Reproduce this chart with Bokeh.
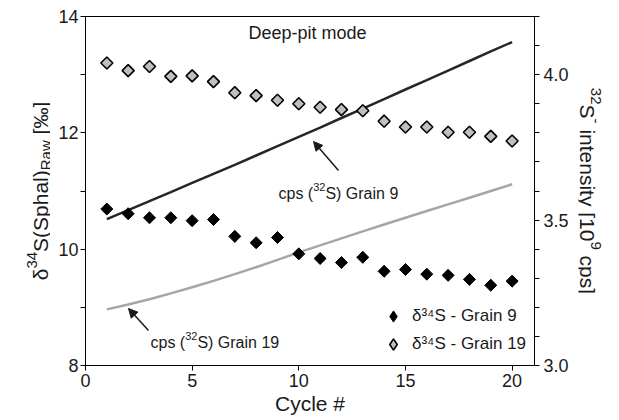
import numpy as np
from bokeh.plotting import figure
from bokeh.layouts import row
from bokeh.models import (Range1d, LinearAxis, FixedTicker, NumeralTickFormatter,
                          Label, Arrow, NormalHead, Legend, LegendItem)
from bokeh.embed import file_html
from bokeh.resources import INLINE

# ---------------- data ----------------
cycles = list(range(1, 21))
d34s_grain9 = [10.69, 10.61, 10.54, 10.54, 10.49, 10.51, 10.22, 10.11, 10.20, 9.92,
               9.84, 9.77, 9.86, 9.62, 9.65, 9.57, 9.55, 9.48, 9.38, 9.45]
d34s_grain19 = [13.20, 13.07, 13.14, 12.97, 12.98, 12.88, 12.69, 12.64, 12.56, 12.50,
                12.44, 12.40, 12.38, 12.20, 12.10, 12.10, 12.01, 12.01, 11.94, 11.86]
cps_grain9 = [3.503, 3.534, 3.565, 3.596, 3.628, 3.659, 3.690, 3.722, 3.754, 3.786,
              3.818, 3.851, 3.883, 3.916, 3.949, 3.981, 4.014, 4.047, 4.080, 4.112]
cps_grain19 = [3.193, 3.210, 3.228, 3.248, 3.269, 3.291, 3.314, 3.338, 3.363, 3.389,
               3.413, 3.437, 3.461, 3.485, 3.508, 3.531, 3.554, 3.577, 3.600, 3.623]

x_ticks = [0, 5, 10, 15, 20]
left_ticks = [8, 10, 12, 14]
left_minor = [9, 11, 13]
right_ticks = [3.0, 3.5, 4.0]
right_minor = [3.1, 3.2, 3.3, 3.4, 3.6, 3.7, 3.8, 3.9, 4.1, 4.2]

# ---------------- layout ----------------
FONT = "Liberation Sans"
TC = "#1a1a1a"
W, H = 619, 420
LS, RS = 50, 41                 # side strips holding the rotated axis titles
FL, FR, FT, FB = 85, 534, 16, 365   # frame in page pixels
X0, X1 = 0, 21.05
Y0, Y1 = 8, 14
MW = W - LS - RS

p = figure(width=MW, height=H, x_range=Range1d(X0, X1), y_range=Range1d(Y0, Y1),
           output_backend="svg", toolbar_location=None,
           min_border_left=FL - LS, min_border_right=(W - RS) - FR,
           min_border_top=FT, min_border_bottom=H - FB)
p.grid.visible = False
p.outline_line_color = "black"
p.outline_line_width = 1
p.background_fill_color = "white"
p.border_fill_color = "white"

p.extra_y_ranges = {"cps": Range1d(3.0, 4.2)}


def style_axis(ax, size="18px"):
    ax.axis_line_color = "black"
    ax.major_tick_line_color = "black"
    ax.minor_tick_line_color = "black"
    ax.major_tick_out = 5
    ax.major_tick_in = 0
    ax.minor_tick_out = 5
    ax.minor_tick_in = 0
    ax.major_label_text_font = FONT
    ax.major_label_text_font_size = size
    ax.major_label_text_color = TC
    ax.axis_label_text_font = FONT
    ax.axis_label_text_font_style = "normal"
    ax.axis_label_text_color = TC


xa = p.xaxis[0]
style_axis(xa)
xa.ticker = FixedTicker(ticks=x_ticks, minor_ticks=[])
xa.axis_label = "Cycle #"
xa.axis_label_text_font_size = "21px"
xa.axis_label_standoff = 2
xa.major_label_standoff = 3

ya = p.yaxis[0]
style_axis(ya)
ya.ticker = FixedTicker(ticks=left_ticks, minor_ticks=left_minor)
ya.major_label_standoff = 2

ra = LinearAxis(y_range_name="cps")
style_axis(ra)
ra.ticker = FixedTicker(ticks=right_ticks, minor_ticks=right_minor)
ra.formatter = NumeralTickFormatter(format="0.0")
ra.major_label_standoff = 4
p.add_layout(ra, "right")

# ---------------- marks ----------------
p.line(cycles, cps_grain9, y_range_name="cps", line_color="#262626", line_width=2.5)
p.line(cycles, cps_grain19, y_range_name="cps", line_color="#a6a6a6", line_width=2.5)

# diamond renderers (used by the legend), covered by the rotated squares
k9 = p.scatter(cycles, d34s_grain9, marker="diamond", size=10,
               fill_color="black", line_color="black", line_width=1)
k19 = p.scatter(cycles, d34s_grain19, marker="diamond", size=10,
                fill_color="#bfbfbf", line_color="black", line_width=1.6)
p.scatter(cycles, d34s_grain9, marker="square", angle=np.pi / 4, size=8.5,
          fill_color="black", line_color="black", line_width=1)
p.scatter(cycles, d34s_grain19, marker="square", angle=np.pi / 4, size=8.5,
          fill_color="#bfbfbf", line_color="black", line_width=1.6)

legend = Legend(items=[LegendItem(label="δ³⁴S - Grain 9", renderers=[k9]),
                       LegendItem(label="δ³⁴S - Grain 19", renderers=[k19])],
                location=(294, 7), padding=0, margin=0, spacing=-4,
                glyph_width=28, glyph_height=28, label_height=21, label_standoff=5,
                border_line_color=None, background_fill_alpha=0,
                label_text_font=FONT, label_text_font_size="17px", label_text_color=TC)
p.add_layout(legend)

# ---------------- text helpers ----------------
CW = {' ': .278, '(': .333, ')': .333, '[': .278, ']': .278, '-': .333, '#': .556,
      'S': .667, 'G': .778, 'R': .722, 'a': .556, 'c': .5, 'e': .556, 'h': .556,
      'i': .222, 'l': .222, 'n': .556, 'p': .556, 'r': .333, 's': .5, 't': .278,
      'w': .722, 'y': .5, 'δ': .556, '‰': 1.0}


def tw(s, size):
    return sum(CW.get(c, .556) for c in s) * size


def dx(X):
    return X0 + (X - FL) / (FR - FL) * (X1 - X0)


def dy(Y):
    return Y0 + (FB - Y) / (FB - FT) * (Y1 - Y0)


def rich(fig, fx, fy, X, Y, pieces, angle=0.0):
    pos = 0.0
    for text, size, rise in pieces:
        lead = len(text) - len(text.lstrip())
        pos += tw(text[:lead], size)
        body = text.strip()
        if angle == 0:
            px, py = X + pos, Y - rise
        elif angle > 0:
            px, py = X - rise, Y - pos
        else:
            px, py = X + rise, Y + pos
        fig.add_layout(Label(x=fx(px), y=fy(py), text=body, angle=angle,
                             text_font=FONT, text_font_size=f"{size}px",
                             text_color=TC, text_align="left",
                             text_baseline="alphabetic"))
        pos += tw(text[lead:], size)
    return pos


def total(pieces):
    return sum(tw(t, s) for t, s, _ in pieces)


def strip(width):
    # frame spans the same rows as the main frame (row layouts align frames);
    # y data = page pixel row, x data = pixel column inside the strip
    f = figure(width=width, height=H, x_range=Range1d(0, width), y_range=Range1d(FB, FT),
               output_backend="svg", toolbar_location=None,
               x_axis_type=None, y_axis_type=None,
               min_border_left=0, min_border_right=0,
               min_border_top=FT, min_border_bottom=H - FB)
    f.grid.visible = False
    f.outline_line_color = None
    f.background_fill_color = "white"
    f.border_fill_color = "white"
    return f


ident = lambda v: v
Lc = (FT + FB) / 2

# left axis title (reads bottom to top)
left_strip = strip(LS)
left_pieces = [("δ", 21, 0), ("34", 15, 9), ("S(Sphal)", 21, 0), ("Raw", 15, -5),
               (" [‰]", 21, 0)]
rich(left_strip, ident, ident, 40, Lc + total(left_pieces) / 2, left_pieces, angle=np.pi / 2)

# right axis title (reads top to bottom)
right_strip = strip(RS)
right_pieces = [("32", 15, 8), ("S", 21, 0), ("-", 15, 8), (" intensity [10", 21, 0),
                ("9", 15, 8), (" cps]", 21, 0)]
rich(right_strip, ident, ident, 587 - (W - RS), Lc - total(right_pieces) / 2,
     right_pieces, angle=-np.pi / 2)

# annotations inside the frame
p.add_layout(Label(x=dx(307), y=dy(32), text="Deep-pit mode", text_font=FONT,
                   text_font_size="18px", text_color=TC, text_align="center",
                   text_baseline="alphabetic"))
rich(p, dx, dy, 278, 193, [("cps (", 16, 0), ("32", 11, 7), ("S) Grain 9", 16, 0)])
rich(p, dx, dy, 150, 342, [("cps (", 16, 0), ("32", 11, 7), ("S) Grain 19", 16, 0)])

for (xs, ys, xe, ye) in [(338, 170, 313, 141), (148, 330, 128, 308)]:
    p.add_layout(Arrow(end=NormalHead(size=9, line_color=TC, fill_color=TC, line_width=1),
                       x_start=dx(xs), y_start=dy(ys), x_end=dx(xe), y_end=dy(ye),
                       line_width=1.5, line_color=TC))

layout = row(left_strip, p, right_strip, spacing=0)
open("out.html", "w").write(file_html(layout, INLINE))
